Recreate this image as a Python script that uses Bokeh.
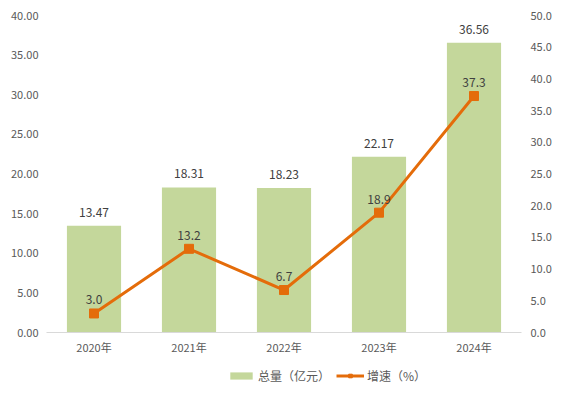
from bokeh.plotting import figure
from bokeh.models import (ColumnDataSource, LinearAxis, Range1d, FactorRange,
                          NumeralTickFormatter, SingleIntervalTicker, Legend, LegendItem)
from bokeh.layouts import column
from bokeh.core.properties import value
from bokeh.embed import file_html
from bokeh.resources import INLINE

years = ["2020年", "2021年", "2022年", "2023年", "2024年"]
total = [13.47, 18.31, 18.23, 22.17, 36.56]
growth = [3.0, 13.2, 6.7, 18.9, 37.3]
total_labels = ["13.47", "18.31", "18.23", "22.17", "36.56"]
growth_labels = ["3.0", "13.2", "6.7", "18.9", "37.3"]

FONT = "Noto Sans CJK SC"
BAR = "#C4D79B"
LINE = "#E46C0A"
TICK = "#595959"
LBL = "#404040"

src = ColumnDataSource(dict(x=years, total=total, growth=growth,
                            tl=total_labels, gl=growth_labels))

p = figure(x_range=FactorRange(*years), y_range=Range1d(0, 40),
           frame_width=475, frame_height=317,
           min_border_left=46, min_border_right=20, min_border_top=15, min_border_bottom=28,
           output_backend="svg", toolbar_location=None)
p.extra_y_ranges = {"right": Range1d(0, 50)}

p.outline_line_color = None
p.xgrid.grid_line_color = None
p.ygrid.grid_line_color = None
p.background_fill_color = "white"
p.border_fill_color = "white"

p.vbar(x="x", top="total", width=0.57, source=src, fill_color=BAR, line_color=None)
p.line(x="x", y="growth", source=src, line_color=LINE, line_width=3, y_range_name="right")
p.scatter(x="x", y="growth", source=src, marker="square", size=9,
          fill_color=LINE, line_color=LINE, y_range_name="right")

p.text(x="x", y="total", text="tl", source=src, y_offset=-9, text_align="center",
       text_baseline="bottom", text_font=value(FONT), text_font_size="12px", text_color=LBL)
p.text(x="x", y="growth", text="gl", source=src, y_offset=-9, text_align="center",
       text_baseline="bottom", text_font=value(FONT), text_font_size="12px", text_color=LBL,
       y_range_name="right")

# left axis
ya = p.yaxis[0]
ya.ticker = SingleIntervalTicker(interval=5)
ya.formatter = NumeralTickFormatter(format="0.00")
ya.axis_line_color = None
ya.major_tick_line_color = None
ya.minor_tick_line_color = None
ya.major_tick_out = 0
ya.minor_tick_out = 0
ya.major_label_text_font = FONT
ya.major_label_text_font_size = "11px"
ya.major_label_text_color = TICK
ya.major_label_standoff = 8

ra = LinearAxis(y_range_name="right", ticker=SingleIntervalTicker(interval=5),
                formatter=NumeralTickFormatter(format="0.0"))
ra.axis_line_color = None
ra.major_tick_line_color = None
ra.minor_tick_line_color = None
ra.major_tick_out = 0
ra.minor_tick_out = 0
ra.major_label_text_font = FONT
ra.major_label_text_font_size = "11px"
ra.major_label_text_color = TICK
ra.major_label_standoff = 9
p.add_layout(ra, "right")

xa = p.xaxis[0]
xa.axis_line_color = "#D9D9D9"
xa.axis_line_width = 1
xa.major_tick_line_color = None
xa.minor_tick_line_color = None
xa.major_tick_out = 0
xa.minor_tick_out = 0
xa.major_label_text_font = FONT
xa.major_label_text_font_size = "11px"
xa.major_label_text_color = TICK
xa.major_label_standoff = 6

# legend strip: a second small figure whose glyphs lie outside its visible range
p2 = figure(x_range=FactorRange(*years), y_range=Range1d(1000, 1001),
            width=552, height=30, min_border=0,
            x_axis_location=None, y_axis_location=None,
            output_backend="svg", toolbar_location=None)
p2.outline_line_color = None
p2.xgrid.grid_line_color = None
p2.ygrid.grid_line_color = None
lb = p2.vbar(x="x", top="total", width=0.57, source=src, fill_color=BAR, line_color=None)
ll = p2.line(x="x", y="growth", source=src, line_color=LINE, line_width=3)
lm = p2.scatter(x="x", y="growth", source=src, marker="square", size=9,
                fill_color=LINE, line_color=LINE)

legend = Legend(items=[LegendItem(label="总量（亿元）", renderers=[lb]),
                       LegendItem(label="增速（%）", renderers=[ll, lm])],
                orientation="horizontal", location=(181, 6),
                label_text_font=FONT, label_text_font_size="12px", label_text_color=TICK,
                glyph_width=28, glyph_height=9, label_height=16, spacing=6, label_standoff=3,
                border_line_color=None, background_fill_alpha=0, padding=2, margin=0)
p2.add_layout(legend)

layout = column(p, p2, spacing=0)
open("out.html", "w").write(file_html(layout, INLINE))
